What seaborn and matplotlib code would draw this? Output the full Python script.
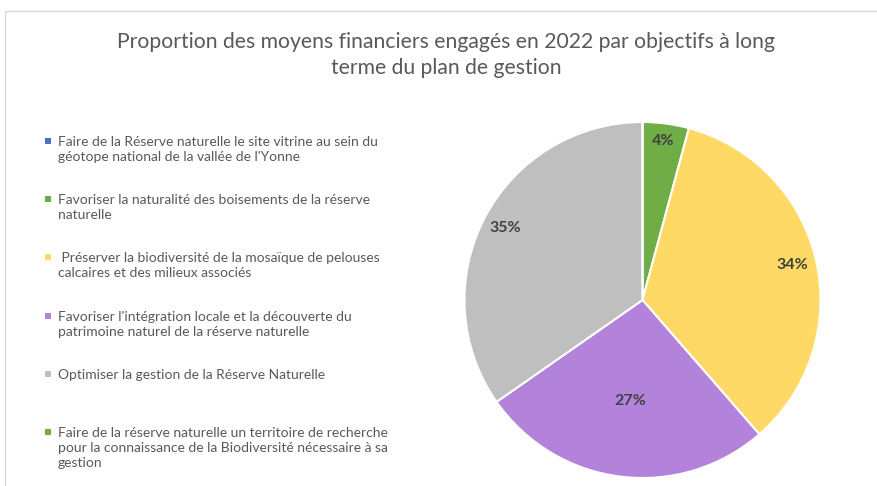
import numpy as np
import matplotlib
matplotlib.use("Agg")
import matplotlib.pyplot as plt
import seaborn as sns
from matplotlib.patches import Rectangle

sns.set_style("white")
plt.rcParams['font.family'] = ['Lato', 'DejaVu Sans']

# data (share of the budget, %)
objectifs = [
    "Faire de la Réserve naturelle le site vitrine au sein du\ngéotope national de la vallée de l'Yonne",
    "Favoriser la naturalité des boisements de la réserve\nnaturelle",
    " Préserver la biodiversité de la mosaïque de pelouses\ncalcaires et des milieux associés",
    "Favoriser l'intégration locale et la découverte du\npatrimoine naturel de la réserve naturelle",
    "Optimiser la gestion de la Réserve Naturelle",
    "Faire de la réserve naturelle un territoire de recherche\npour la connaissance de la Biodiversité nécessaire à sa\ngestion",
]
parts = [0.0, 4.2, 34.4, 26.7, 34.7, 0.0]
couleurs = ["#4472C4", "#70AD47", "#FFD966", "#B383DB", "#BFBFBF", "#70AD47"]
titre = ["Proportion des moyens financiers engagés en 2022 par objectifs à long",
         "terme du plan de gestion"]

W, H = 877, 486
fig = plt.figure(figsize=(W / 100, H / 100), dpi=100)

# light frame of the chart area (cut on the right and bottom)
fig.patches.append(Rectangle((5 / W, -0.1), 1.2, (H - 11) / H + 0.1,
                             transform=fig.transFigure, fill=False,
                             edgecolor="#D9D9D9", linewidth=1))

for ligne, yl in zip(titre, [42, 68]):
    fig.text(446 / W, 1 - yl / H, ligne, ha="center", va="center",
             fontsize=15.2, color="#595959")

# pie
cx, cy, r = 642.5, 300, 178
ax = fig.add_axes([(cx - r) / W, (H - cy - r) / H, 2 * r / W, 2 * r / H])
wedges, textes, pcts = ax.pie(
    parts, colors=couleurs, startangle=90, counterclock=False,
    autopct=lambda p: f"{p:.0f}%" if p > 0.5 else "",
    pctdistance=0.87,
    wedgeprops=dict(edgecolor="white", linewidth=1.5),
    textprops=dict(color="#404040", fontsize=11.5, fontweight="bold"))
ax.set_xlim(-1, 1)
ax.set_ylim(-1, 1)

dist = [0.9, 0.9, 0.865, 0.57, 0.87, 0.9]
for w, t, d in zip(wedges, pcts, dist):
    a = np.deg2rad((w.theta1 + w.theta2) / 2)
    t.set_position((d * np.cos(a), d * np.sin(a)))

# legend on the left
y0 = 141
for i, (lab, c) in enumerate(zip(objectifs, couleurs)):
    y = y0 + i * 58.2
    fig.patches.append(Rectangle((45 / W, 1 - (y + 3) / H), 6 / W, 6 / H,
                                 transform=fig.transFigure, facecolor=c,
                                 edgecolor="none"))
    fig.text(58 / W, 1 - (y - 5) / H, lab, ha="left", va="top",
             fontsize=10, color="#595959", linespacing=1.3)

fig.savefig("out.png", dpi=100)
